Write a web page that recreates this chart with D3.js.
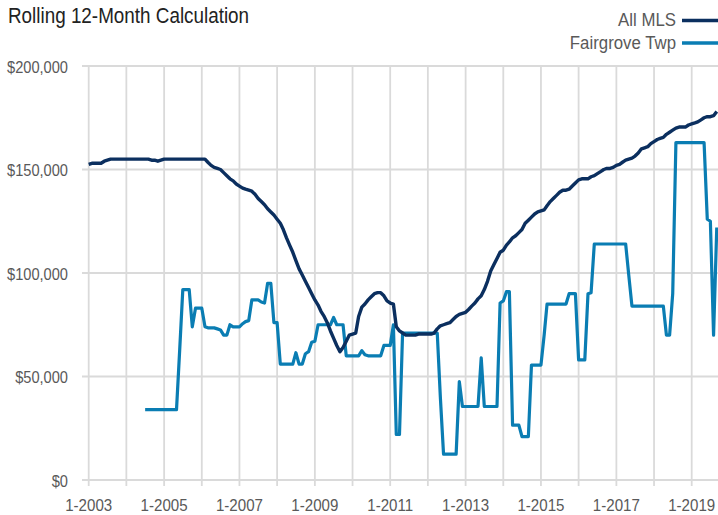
<!DOCTYPE html>
<html>
<head>
<meta charset="utf-8">
<script src="https://cdn.jsdelivr.net/npm/d3@7"></script>
<style>
  html, body { margin: 0; padding: 0; background: #fff; }
  svg { display: block; }
  text { font-family: "Liberation Sans", Arial, sans-serif; }
</style>
</head>
<body>
<svg id="chart" width="718" height="515"></svg>
<script>
// ---- Data (monthly, starting 1-2003) ----
const startYear = 2003;
const seriesNames = ["All MLS", "Fairgrove Twp"];
const seriesColors = ["#0b2f5f", "#0a7db3"];

const allMLS = [
  152500,153000,153000,153000,153000,154000,154500,155000,155000,155000,155000,155000, // 2003
  155000,155000,155000,155000,155000,155000,155000,155000,154500,154500,154000,154500, // 2004
  155000,155000,155000,155000,155000,155000,155000,155000,155000,155000,155000,155000, // 2005
  155000,155000,153500,152000,151000,150500,150000,148500,147000,145500,144500,143000, // 2006
  142000,141000,140500,140000,139500,138000,136000,134500,133000,131000,129500,128000, // 2007
  126000,124000,121000,117000,113500,110000,106000,102000,99000,96000,93000,90000,     // 2008
  87000,84500,81500,79000,76000,72000,68500,65000,62000,64000,67000,70000,             // 2009
  70500,71000,79000,83500,85000,87000,88500,90000,90500,90500,89000,86500,             // 2010
  85500,85000,74000,72000,71000,70000,70000,70000,70000,70500,70500,70500,             // 2011
  70500,70500,71000,73000,74500,75000,75500,76000,77500,79000,80000,80500,             // 2012
  81000,82500,84000,85500,87500,89000,92000,96000,101000,104000,107000,110000,         // 2013
  111000,113500,115000,117000,118000,119500,121000,124000,125500,127000,128500,129500, // 2014
  130000,130500,132500,134500,136000,137500,139000,140000,140000,140500,142000,143500, // 2015
  145000,145500,145500,145500,146500,147000,148000,149000,150000,150500,150500,151000, // 2016
  152000,152500,153500,154500,155000,155500,156500,158000,160000,160500,161000,162500, // 2017
  163500,164500,165000,165500,167000,168000,169000,170000,170500,170500,170500,171500, // 2018
  172000,172500,173000,174000,175000,175500,175500,176000,178000                       // 2019
];

const fairgrove = [
  null,null,null,null,null,null,null,null,null,null,null,null,                          // 2003
  null,null,null,null,null,null,34000,34000,34000,34000,34000,34000,                    // 2004
  34000,34000,34000,34000,34000,63000,92000,92000,92000,74000,83000,83000,             // 2005
  83000,74000,73500,73500,73500,73000,72500,70000,70000,75000,74000,74000,             // 2006
  74000,75500,76500,77000,87000,87000,87000,86000,85500,95000,95000,76000,             // 2007
  76000,56000,56000,56000,56000,56000,61500,56000,56000,61000,62000,66500,             // 2008
  67000,75000,75000,75000,75000,75000,78500,75000,75000,75000,60000,60000,             // 2009
  60000,60000,60000,62500,60500,60000,60000,60000,60000,60000,65000,65000,             // 2010
  65000,75000,22000,22000,71000,71000,71000,71000,71000,71000,71000,71000,             // 2011
  71000,71000,71000,71000,40000,12500,12500,12500,12500,12500,47500,35500,             // 2012
  35500,35500,35500,35500,35500,59000,35500,35500,35500,35500,35500,85500,             // 2013
  86500,91000,91000,26500,26500,26500,21000,21000,21000,55500,55500,55500,             // 2014
  55500,70000,85000,85000,85000,85000,85000,85000,85000,90000,90000,90000,             // 2015
  58000,58000,58000,90000,90500,114000,114000,114000,114000,114000,114000,114000,      // 2016
  114000,114000,114000,114000,99000,84000,84000,84000,84000,84000,84000,84000,         // 2017
  84000,84000,84000,84000,70000,70000,90000,163000,163000,163000,163000,163000,        // 2018
  163000,163000,163000,163000,163000,126000,125000,70000,122000                        // 2019
];

const yTicks = [0, 50000, 100000, 150000, 200000];
const gridYears = [2003,2004,2005,2006,2007,2008,2009,2010,2011,2012,2013,2014,2015,2016,2017,2018,2019];
const labelYears = [2003,2005,2007,2009,2011,2013,2015,2017,2019];
const titleText = "Rolling 12-Month Calculation";

// ---- Drawing ----
const svg = d3.select("#chart");
const dateOf = i => new Date(startYear, i, 1);

const x = d3.scaleTime()
  .domain([new Date(2003, 0, 1), new Date(2019, 0, 1)])
  .range([88.7, 691.7]);
const y = d3.scaleLinear().domain([0, 200000]).range([480, 66]);

const gridColor = "#dadada";
const textColor = "#595959";

// condense text horizontally (reference uses a condensed face)
function condense(sel, factor) {
  sel.each(function () {
    const w = this.getComputedTextLength();
    d3.select(this).attr("textLength", w * factor).attr("lengthAdjust", "spacingAndGlyphs");
  });
}

// horizontal gridlines
svg.append("g").selectAll("line").data(yTicks).join("line")
  .attr("x1", 82).attr("x2", 718)
  .attr("y1", d => y(d)).attr("y2", d => y(d))
  .attr("stroke", gridColor).attr("stroke-width", 2);

// vertical gridlines (extend below as ticks)
svg.append("g").selectAll("line").data(gridYears).join("line")
  .attr("x1", d => x(new Date(d, 0, 1))).attr("x2", d => x(new Date(d, 0, 1)))
  .attr("y1", y(200000)).attr("y2", y(0) + 6)
  .attr("stroke", gridColor).attr("stroke-width", 1.8);

// y labels
svg.append("g").selectAll("text").data(yTicks).join("text")
  .attr("x", 68).attr("y", d => y(d) + 6.5)
  .attr("text-anchor", "end")
  .attr("font-size", 17).attr("fill", textColor)
  .text(d => "$" + d3.format(",")(d))
  .call(condense, 0.86);

// x labels
svg.append("g").selectAll("text").data(labelYears).join("text")
  .attr("x", d => x(new Date(d, 0, 1))).attr("y", 510.5)
  .attr("text-anchor", "middle")
  .attr("font-size", 16.5).attr("fill", textColor)
  .text(d => "1-" + d)
  .call(condense, 0.915);

// lines
const lineGen = d3.line()
  .defined(d => d != null)
  .x((d, i) => x(dateOf(i)))
  .y(d => y(d));

svg.append("path").datum(fairgrove)
  .attr("d", lineGen)
  .attr("fill", "none").attr("stroke", seriesColors[1])
  .attr("stroke-width", 3.2).attr("stroke-linejoin", "round");
svg.append("path").datum(allMLS)
  .attr("d", lineGen)
  .attr("fill", "none").attr("stroke", seriesColors[0])
  .attr("stroke-width", 3.4).attr("stroke-linejoin", "round");

// title
svg.append("text").attr("x", 8).attr("y", 22.5)
  .attr("font-size", 21.5).attr("fill", "#222")
  .text(titleText)
  .call(condense, 0.877);

// legend
const legend = svg.append("g");
const legendY = [20.5, 43];
seriesNames.forEach((name, i) => {
  legend.append("text").attr("x", 676).attr("y", legendY[i] + 5.5)
    .attr("text-anchor", "end").attr("font-size", 17.5).attr("fill", textColor)
    .text(name)
    .call(condense, 0.96);
  legend.append("line").attr("x1", 682).attr("x2", 718)
    .attr("y1", legendY[i]).attr("y2", legendY[i])
    .attr("stroke", seriesColors[i]).attr("stroke-width", 3.5);
});
</script>
</body>
</html>
